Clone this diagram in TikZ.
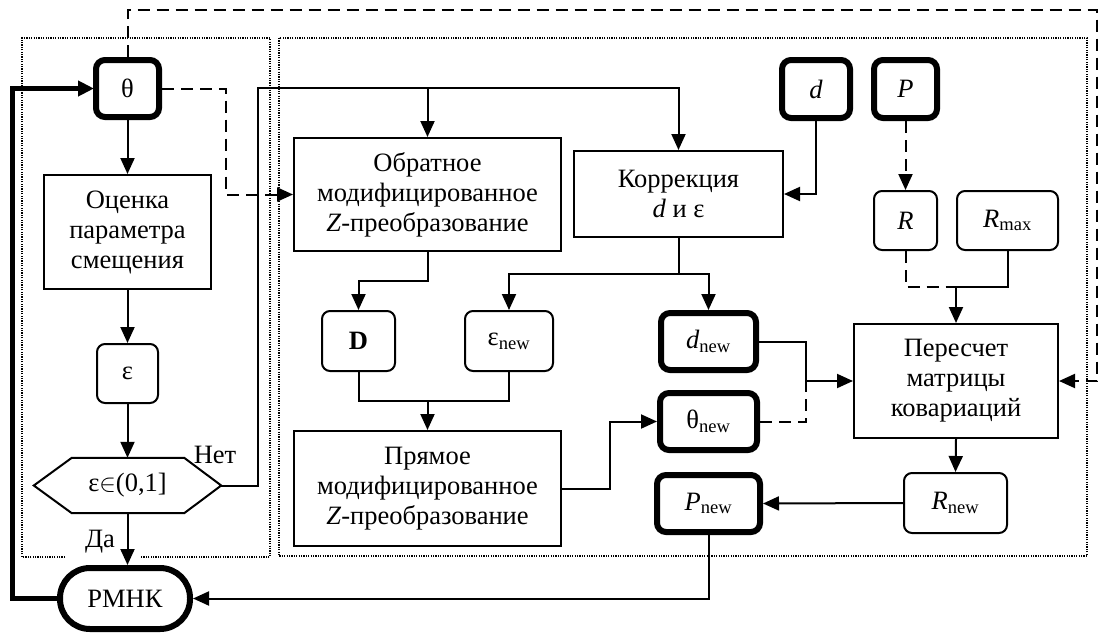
\documentclass[tikz,border=0pt]{standalone}
\usepackage{fontspec}
\setmainfont{Liberation Serif}
\usetikzlibrary{arrows.meta}
\begin{document}
\begin{tikzpicture}[x=1pt,y=-1pt,
  every node/.style={font=\fontsize{26.5}{30}\selectfont, inner sep=0pt, align=center},
  box/.style={draw, line width=2pt, rectangle},
  rbox/.style={box, rounded corners=8pt},
  tbox/.style={box, rounded corners=9pt, line width=6pt},
  conn/.style={line width=2pt},
  arr/.style={conn, -{Triangle[length=16pt,width=14pt]}},
  dsh/.style={dash pattern=on 12pt off 7pt},
  dotbox/.style={line width=1.2pt, dash pattern=on 1.2pt off 1.2pt},
  thickarr/.style={line width=5pt, -{Triangle[length=16pt,width=15pt]}, shorten >=-1pt}
]
\useasboundingbox (0,0) rectangle (1100,635);

% dotted frames
\draw[dotbox] (65,557) -- (22,557) -- (22,38) -- (270,38) -- (270,557) -- (140,557);
\draw[dotbox] (279,38) rectangle (1087,556);

% nodes
\node[tbox, minimum width=63pt, minimum height=57pt] (theta) at (127.5,88.5) {θ};
\node[box, minimum width=167pt, minimum height=114pt] (ocen) at (127.5,232) {Оценка\\параметра\\смещения};
\node[rbox, minimum width=61pt, minimum height=59pt] (eps) at (127.5,373.5) {ε};
\node[minimum width=187pt, minimum height=55pt] (hex) at (127.5,485.5) {ε$\in$(0,1]};
\draw[conn] (hex.west) -- ([xshift=38pt]hex.north west) -- ([xshift=-37pt]hex.north east)
  -- (hex.east) -- ([xshift=-37pt]hex.south east) -- ([xshift=38pt]hex.south west) -- cycle;
\node[tbox, rounded corners=30pt, minimum width=130pt, minimum height=61pt] (rmnk) at (125,598.5) {РМНК};

\node[box, minimum width=267pt, minimum height=113pt] (obr) at (427.5,194.5) {Обратное\\модифицированное\\\textit{Z}-преобразование};
\node[box, minimum width=209pt, minimum height=86pt] (korr) at (678.5,194) {Коррекция\\\textit{d} и ε};
\node[tbox, minimum width=68pt, minimum height=58pt] (d) at (816,89) {\textit{d}};
\node[tbox, minimum width=63pt, minimum height=58pt] (P) at (905.5,89) {\textit{P}};
\node[rbox, minimum width=63pt, minimum height=59pt] (R) at (905.5,220.5) {\textit{R}};
\node[rbox, minimum width=101pt, minimum height=59pt] (Rmax) at (1007.5,220.5) {\textit{R}\textsubscript{max}};
\node[rbox, minimum width=73pt, minimum height=60pt] (D) at (358.5,341) {\textbf{D}};
\node[rbox, minimum width=88pt, minimum height=60pt] (epsnew) at (509,341) {ε\textsubscript{new}};
\node[tbox, minimum width=95pt, minimum height=57pt] (dnew) at (708.5,341.5) {\textit{d}\textsubscript{new}};
\node[tbox, minimum width=97pt, minimum height=57pt] (thnew) at (708.5,421.5) {θ\textsubscript{new}};
\node[tbox, minimum width=103pt, minimum height=57pt] (Pnew) at (708.5,503.5) {\textit{P}\textsubscript{new}};
\node[box, minimum width=204pt, minimum height=114pt] (per) at (956,381) {Пересчет\\матрицы\\ковариаций};
\node[rbox, minimum width=103pt, minimum height=60pt] (Rnew) at (955.5,503) {\textit{R}\textsubscript{new}};
\node[box, minimum width=267pt, minimum height=115pt] (pryam) at (427.5,488.5) {Прямое\\модифицированное\\\textit{Z}-преобразование};

% labels
\node (net) at (215,455) {Нет};
\node (da) at (100,542) {Да};

% coordinates
\coordinate (tr) at (1097,10);
\coordinate (lx) at (12,0);
\coordinate (j1) at (258,88);
\coordinate (j2) at (226,0);
\coordinate (j3) at (0,281);
\coordinate (j4) at (0,274);
\coordinate (j5) at (956,287);
\coordinate (j6) at (0,401);
\coordinate (j7) at (610,0);
\coordinate (j8) at (806,0);

% connectors
\draw[arr,dsh] (theta.north) |- (tr) |- (per.east);
\draw[thickarr] (rmnk.west) -- (rmnk.west -| lx) -- (theta.west -| lx) -- (theta.west);
\draw[arr] (theta.south) -- (ocen.north);
\draw[arr] (ocen.south) -- (eps.north);
\draw[arr] (eps.south) -- (hex.north);
\draw[arr] (hex.south) -- (hex.south |- rmnk.north);
\draw[arr] (hex.east) -| (j1) -| (korr.north);
\draw[arr] (obr.north |- j1) -- (obr.north);
\draw[arr,dsh] (theta.east) -- (theta.east -| j2) -- (obr.west -| j2) -- (obr.west);
\draw[arr] (obr.south) -- (obr.south |- j3) -| (D.north);
\draw[arr] (korr.south) -- (korr.south |- j4) -| (epsnew.north);
\draw[arr] (korr.south |- j4) -| (dnew.north);
\draw[arr] (d.south) |- (korr.east);
\draw[arr,dsh] (P.south) -- (R.north);
\draw[conn,dsh] (R.south) |- (j5);
\draw[conn] (Rmax.south) |- (j5);
\draw[arr] (j5) -- (per.north);
\draw[conn] (D.south) |- (epsnew.south |- j6) -- (epsnew.south);
\draw[arr] (pryam.north |- j6) -- (pryam.north);
\draw[arr] (pryam.east) -- (pryam.east -| j7) |- (thnew.west);
\draw[arr] (dnew.east) -| (j8 |- per.west) -- (per.west);
\draw[conn,dsh] (thnew.east) -| (j8 |- per.west);
\draw[arr] (per.south) -- (Rnew.north);
\draw[arr] (Rnew.west) -- (Pnew.east);
\draw[arr] (Pnew.south) |- (rmnk.east);
\end{tikzpicture}
\end{document}
